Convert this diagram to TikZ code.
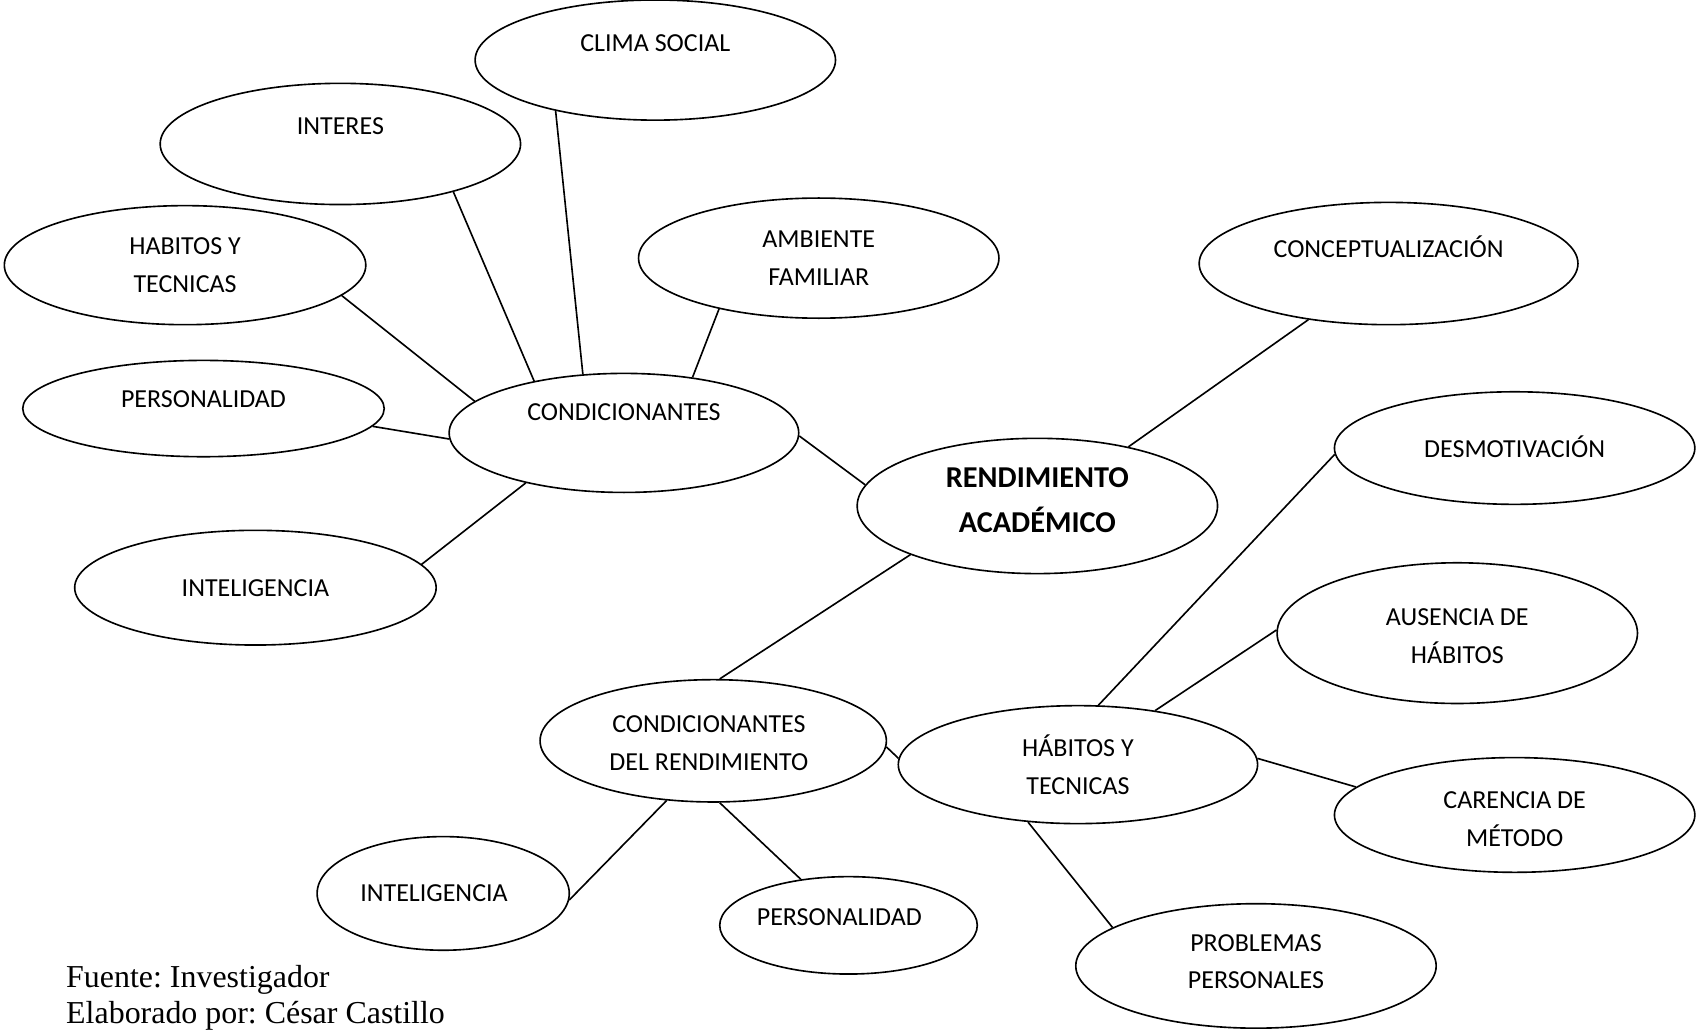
\documentclass[tikz,border=0pt]{standalone}
\usepackage{fontspec}
\setmainfont{Carlito}
\newfontfamily\footfont{Liberation Serif}
\usetikzlibrary{shapes.geometric}
\frenchspacing

\begin{document}
\begin{tikzpicture}[x=1pt,y=-1pt,
  bub/.style={ellipse,draw,line width=1.5pt,inner sep=0pt},
  lbl/.style={font=\fontsize{24}{35}\selectfont,align=center},
  link/.style={line width=1.5pt}]
\useasboundingbox (0,0) rectangle (1568,953);
\node[bub,minimum width=333,minimum height=111,label={[lbl,yshift=15.5pt]center:CLIMA SOCIAL}] (clima) at (605.5,55.5) {};
\node[bub,minimum width=333,minimum height=112,label={[lbl,yshift=16pt]center:INTERES}] (interes) at (314.5,133) {};
\node[bub,minimum width=334,minimum height=110,label={[lbl]center:HABITOS Y\\TECNICAS}] (habt1) at (171,245) {};
\node[bub,minimum width=334,minimum height=89,label={[lbl,yshift=8.5pt]center:PERSONALIDAD}] (pers1) at (188,377.5) {};
\node[bub,minimum width=323,minimum height=110,label={[lbl,yshift=19pt]center:CONDICIONANTES}] (cond) at (576.5,400) {};
\node[bub,minimum width=334,minimum height=106,label={[lbl]center:INTELIGENCIA}] (intel1) at (236,543) {};
\node[bub,minimum width=333,minimum height=111,label={[lbl]center:AMBIENTE\\FAMILIAR}] (amb) at (756.5,238.5) {};
\node[bub,minimum width=350,minimum height=113,label={[lbl,yshift=15.5pt]center:CONCEPTUALIZACIÓN}] (concep) at (1283,243.5) {};
\node[bub,minimum width=333,minimum height=125,label={[lbl,font=\fontsize{28}{42}\selectfont\bfseries,yshift=5.5pt]center:RENDIMIENTO\\ACADÉMICO}] (rend) at (958.5,467.5) {};
\node[bub,minimum width=333,minimum height=104,label={[lbl,yshift=1pt]center:DESMOTIVACIÓN}] (desmot) at (1399.5,414) {};
\node[bub,minimum width=333,minimum height=130,label={[lbl,yshift=-2.5pt]center:AUSENCIA DE\\HÁBITOS}] (ausen) at (1346.5,585) {};
\node[bub,minimum width=320,minimum height=113,label={[lbl,xshift=-4pt,yshift=-2pt]center:CONDICIONANTES\\DEL RENDIMIENTO}] (cdr) at (659,684.5) {};
\node[bub,minimum width=332,minimum height=109,label={[lbl]center:HÁBITOS Y\\TECNICAS}] (habt2) at (996,706.5) {};
\node[bub,minimum width=333,minimum height=106,label={[lbl,yshift=-3.5pt]center:CARENCIA DE\\MÉTODO}] (caren) at (1399.5,753) {};
\node[bub,minimum width=233,minimum height=105,label={[lbl,xshift=-8.5pt]center:INTELIGENCIA}] (intel2) at (409.5,825.5) {};
\node[bub,minimum width=238,minimum height=90,label={[lbl,xshift=-8.5pt,yshift=8pt]center:PERSONALIDAD}] (pers2) at (784,855) {};
\node[bub,minimum width=333,minimum height=115,label={[lbl,yshift=4pt]center:PROBLEMAS\\PERSONALES}] (probl) at (1160.5,892.5) {};
\node[font=\fontsize{29.5}{33}\selectfont\footfont,align=left,anchor=west,inner sep=0pt] (fuente) at (61,922) {Fuente: Investigador\\Elaborado por: César Castillo};
\draw[link] (cond.-1) -- (rend.173);
\draw[link] (cond.125) -- (clima.-153);
\draw[link] (cond.150) -- (interes.-23);
\draw[link] (cond.168) -- (habt1.-11);
\draw[link] (cond.-178) -- (pers1.-6);
\draw[link] (cond.-153) -- (intel1.8);
\draw[link] (cond.39) -- (amb.-153);
\draw[link] (rend.33) -- (concep.-145);
\draw[link] (rend.-159) -- (cdr.84);
\draw[link] (desmot.-178) -- (habt2.71);
\draw[link] (ausen.179) -- (habt2.35);
\draw[link] (caren.170) -- (habt2.2);
\draw[link] (probl.165) -- (habt2.-131);
\draw[link] (cdr.-2) -- (habt2.178);
\draw[link] (cdr.-128) -- (intel2.-3);
\draw[link] (cdr.-84) -- (pers2.136);
\end{tikzpicture}
\end{document}
